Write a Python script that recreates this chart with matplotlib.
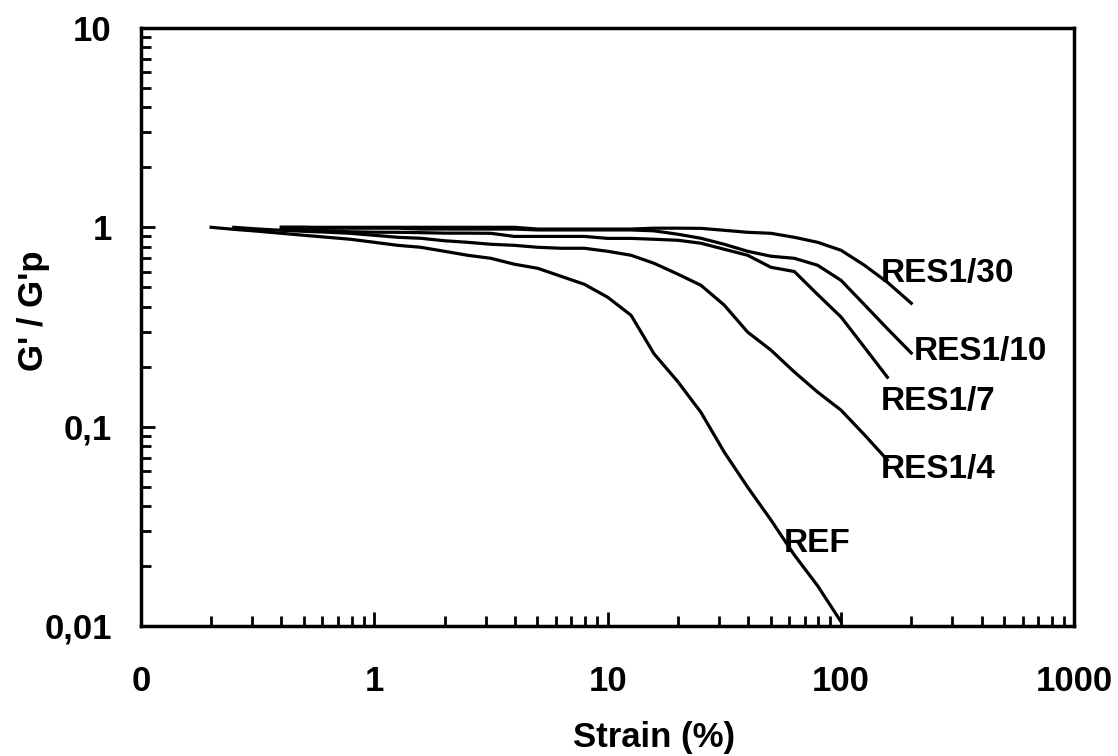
import matplotlib.pyplot as plt
from matplotlib.ticker import LogLocator, FixedLocator, FixedFormatter, NullFormatter

plt.rcParams['font.family'] = ['Liberation Sans', 'DejaVu Sans']
plt.rcParams['font.weight'] = 'bold'

# strain sweep (%) and normalised storage modulus G'/G'p
strain_ref = [0.2, 0.25, 0.32, 0.4, 0.5, 0.63, 0.79, 1.0, 1.26, 1.58, 2.0, 2.51, 3.16, 3.98,
              5.01, 6.31, 7.94, 10.0, 12.6, 15.8, 20.0, 25.1, 31.6, 39.8, 50.1, 63.1, 79.4, 100]
g_ref = [1.0, 0.977, 0.955, 0.933, 0.912, 0.891, 0.871, 0.841, 0.812, 0.794, 0.758, 0.724, 0.699, 0.653,
         0.623, 0.568, 0.518, 0.446, 0.362, 0.232, 0.168, 0.118, 0.0745, 0.0497, 0.034, 0.0227, 0.0159, 0.0105]

strain_14 = [0.25, 0.32, 0.4, 0.5, 0.63, 0.79, 1.0, 1.26, 1.58, 2.0, 2.51, 3.16, 3.98, 5.01,
             6.31, 7.94, 10.0, 12.6, 15.8, 20.0, 25.1, 31.6, 39.8, 50.1, 63.1, 79.4, 100, 126, 158]
g_14 = [1.0, 0.98, 0.966, 0.955, 0.945, 0.933, 0.912, 0.891, 0.881, 0.856, 0.841, 0.822, 0.812, 0.794,
        0.785, 0.785, 0.758, 0.724, 0.66, 0.582, 0.512, 0.407, 0.298, 0.242, 0.188, 0.149, 0.121, 0.091, 0.068]

strain_17 = [0.4, 0.5, 0.63, 0.79, 1.0, 1.26, 1.58, 2.0, 2.51, 3.16, 3.98, 5.01, 6.31, 7.94,
             10.0, 12.6, 15.8, 20.0, 25.1, 31.6, 39.8, 50.1, 63.1, 79.4, 100, 126, 158]
g_17 = [0.99, 0.975, 0.96, 0.95, 0.945, 0.944, 0.94, 0.935, 0.935, 0.933, 0.90, 0.90, 0.90, 0.90,
        0.88, 0.88, 0.871, 0.861, 0.832, 0.776, 0.724, 0.63, 0.60, 0.46, 0.355, 0.25, 0.177]

strain_110 = [0.4, 0.5, 0.63, 0.79, 1.0, 1.26, 1.58, 2.0, 2.51, 3.16, 3.98, 5.01, 6.31, 7.94,
              10.0, 12.6, 15.8, 20.0, 25.1, 31.6, 39.8, 50.1, 63.1, 79.4, 100, 126, 158, 200]
g_110 = [1.0, 1.0, 0.99, 0.99, 0.99, 0.99, 0.98, 0.98, 0.98, 0.98, 0.98, 0.97, 0.97, 0.97,
         0.97, 0.97, 0.96, 0.923, 0.881, 0.822, 0.758, 0.716, 0.699, 0.645, 0.542, 0.409, 0.31, 0.234]

strain_130 = [0.4, 0.5, 0.63, 0.79, 1.0, 1.26, 1.58, 2.0, 2.51, 3.16, 3.98, 5.01, 6.31, 7.94,
              10.0, 12.6, 15.8, 20.0, 25.1, 31.6, 39.8, 50.1, 63.1, 79.4, 100, 126, 158, 200]
g_130 = [1.0, 1.0, 1.0, 1.0, 1.0, 1.0, 1.0, 1.0, 1.0, 1.0, 1.0, 0.98, 0.98, 0.98,
         0.98, 0.98, 0.99, 0.99, 0.988, 0.966, 0.944, 0.933, 0.891, 0.841, 0.767, 0.645, 0.53, 0.416]

curves = [
    (strain_ref, g_ref, "REF", (56.9, 0.0235)),
    (strain_14, g_14, "RES1/4", (148.6, 0.0552)),
    (strain_17, g_17, "RES1/7", (148.6, 0.121)),
    (strain_110, g_110, "RES1/10", (204, 0.2155)),
    (strain_130, g_130, "RES1/30", (148.6, 0.53)),
]

x_ticks = [0.1, 1, 10, 100, 1000]
x_labels = ["0", "1", "10", "100", "1000"]
y_ticks = [0.01, 0.1, 1, 10]
y_labels = ["0,01", "0,1", "1", "10"]

fig = plt.figure(figsize=(11.18, 7.56), dpi=100)
ax = fig.add_axes([0.126, 0.172, 0.835, 0.791])

for xs, ys, name, pos in curves:
    ax.plot(xs, ys, color="black", lw=2.3)
    ax.text(pos[0], pos[1], name, fontsize=24, fontweight="bold", ha="left", va="baseline")

ax.set_xscale("log")
ax.set_yscale("log")
ax.set_xlim(0.1, 1000)
ax.set_ylim(0.01, 10)

ax.xaxis.set_major_locator(FixedLocator(x_ticks))
ax.xaxis.set_major_formatter(FixedFormatter(x_labels))
ax.yaxis.set_major_locator(FixedLocator(y_ticks))
ax.yaxis.set_major_formatter(FixedFormatter(y_labels))
ax.xaxis.set_minor_locator(LogLocator(base=10, subs=range(2, 10)))
ax.yaxis.set_minor_locator(LogLocator(base=10, subs=range(2, 10)))
ax.xaxis.set_minor_formatter(NullFormatter())
ax.yaxis.set_minor_formatter(NullFormatter())

ax.tick_params(which="both", direction="in", width=2, top=False, right=False)
ax.tick_params(which="major", length=10)
ax.tick_params(which="minor", length=7)
ax.tick_params(axis="x", which="major", pad=28, labelsize=25)
ax.tick_params(axis="y", which="major", pad=21, labelsize=25)
for lab in ax.get_xticklabels() + ax.get_yticklabels():
    lab.set_fontweight("bold")

for s in ax.spines.values():
    s.set_linewidth(2.5)

fig.text(654 / 1118, 1 - 738 / 756, "Strain (%)", fontsize=25, fontweight="bold",
         ha="center", va="center")
fig.text(33 / 1118, 1 - 311 / 756, "G' / G'p", fontsize=25, fontweight="bold",
         ha="center", va="center", rotation=90)

plt.savefig("out.png", dpi=100)
